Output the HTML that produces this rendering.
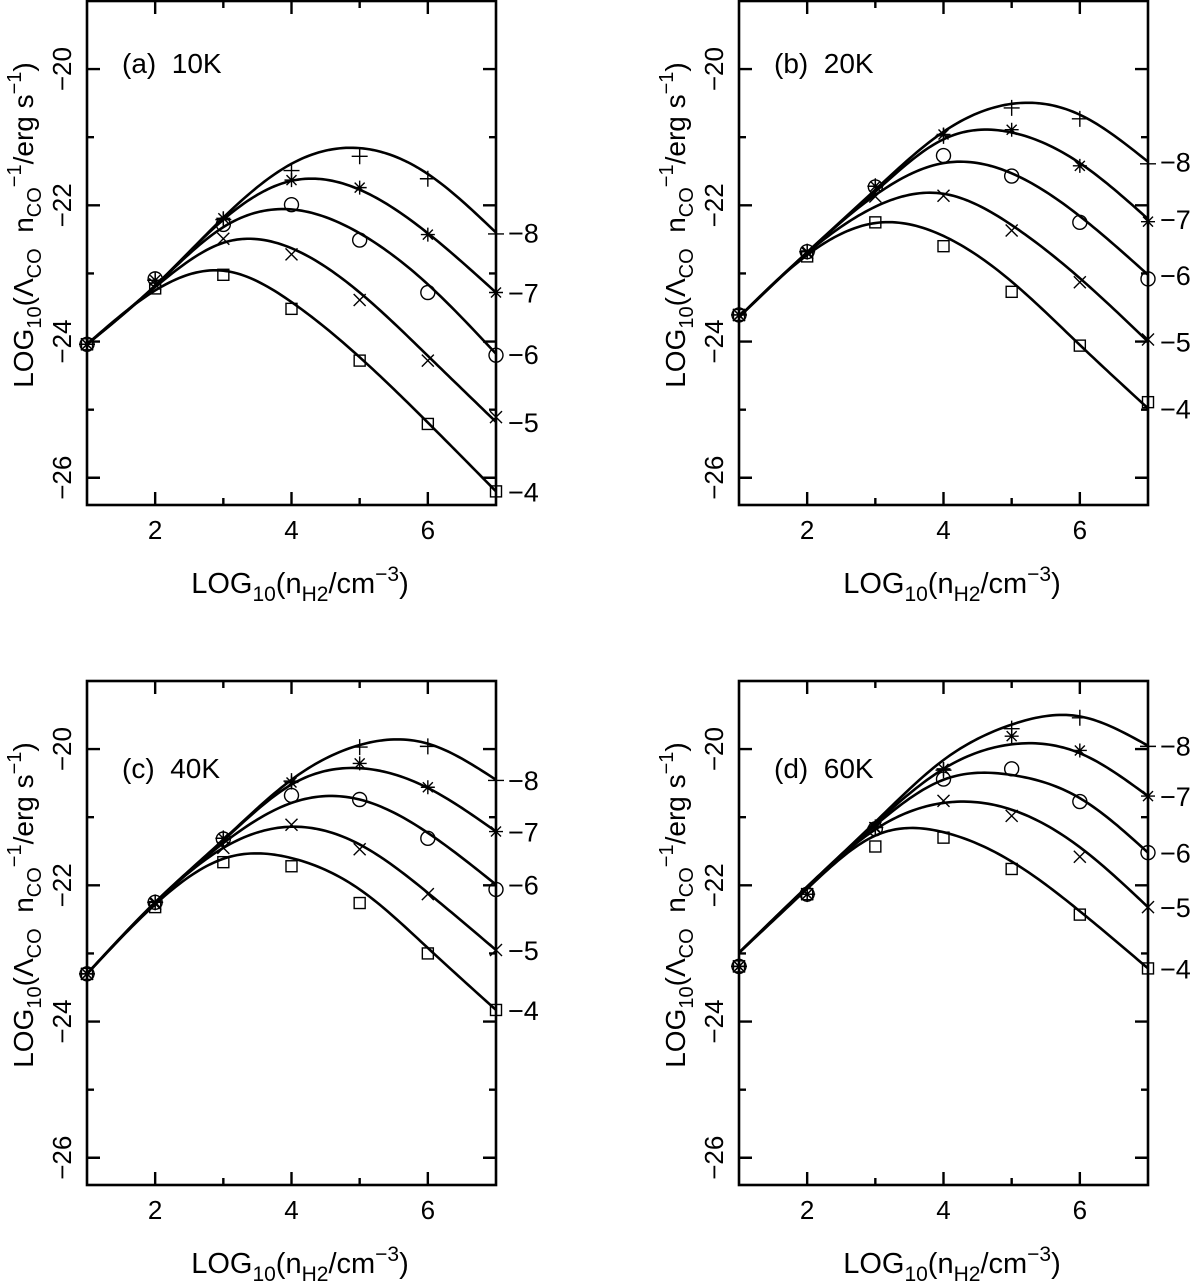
<!DOCTYPE html>
<html><head><meta charset="utf-8"><style>
html,body{margin:0;padding:0;background:#fff;}
svg{display:block;font-family:"Liberation Sans",sans-serif;}
</style></head><body>
<svg id="fig" width="1200" height="1283" viewBox="0 0 1200 1283"></svg>
<script>
// x values (log10 nH2)
const xVals = [1,2,3,4,5,6,7];
const seriesNames = ['plus','asterisk','circle','cross','square'];
const rightLabels = ['\u22128','\u22127','\u22126','\u22125','\u22124'];
const panelTitles = ['(a)\u00a0\u00a010K','(b)\u00a0\u00a020K','(c)\u00a0\u00a040K','(d)\u00a0\u00a060K'];

// Panel (a) 10K: markers
const aPlus = [-24.04,-23.10,-22.21,-21.49,-21.28,-21.61,-22.42];
const aAst  = [-24.04,-23.10,-22.19,-21.63,-21.74,-22.43,-23.28];
const aCirc = [-24.04,-23.08,-22.28,-21.99,-22.51,-23.28,-24.20];
const aCross= [-24.04,-23.16,-22.49,-22.72,-23.39,-24.28,-25.11];
const aSq   = [-24.04,-23.22,-23.02,-23.52,-24.28,-25.21,-26.20];
// Panel (a) fitted curves
const aPlusFit = [-24.04,-23.18,-22.18,-21.39,-21.16,-21.54,-22.40];
const aAstFit  = [-24.04,-23.18,-22.21,-21.64,-21.77,-22.41,-23.28];
const aCircFit = [-24.04,-23.18,-22.32,-22.06,-22.41,-23.16,-24.18];
const aCrossFit= [-24.04,-23.20,-22.55,-22.63,-23.28,-24.21,-25.18];
const aSqFit   = [-24.04,-23.25,-22.96,-23.42,-24.23,-25.19,-26.20];

// Panel (b) 20K
const bPlus = [-23.61,-22.68,-21.72,-20.98,-20.57,-20.73,-21.39];
const bAst  = [-23.61,-22.68,-21.72,-20.96,-20.89,-21.42,-22.24];
const bCirc = [-23.61,-22.68,-21.73,-21.27,-21.57,-22.25,-23.08];
const bCross= [-23.61,-22.70,-21.87,-21.86,-22.37,-23.13,-23.97];
const bSq   = [-23.61,-22.75,-22.25,-22.60,-23.27,-24.06,-24.89];
const bPlusFit = [-23.64,-22.69,-21.77,-20.92,-20.51,-20.67,-21.36];
const bAstFit  = [-23.64,-22.69,-21.80,-21.03,-20.93,-21.38,-22.20];
const bCircFit = [-23.64,-22.69,-21.85,-21.38,-21.53,-22.16,-23.02];
const bCrossFit= [-23.64,-22.70,-22.02,-21.83,-22.29,-23.07,-24.00];
const bSqFit   = [-23.64,-22.73,-22.26,-22.45,-23.12,-24.05,-24.98];

// Panel (c) 40K
const cPlus = [-23.30,-22.25,-21.31,-20.47,-19.97,-19.96,-20.46];
const cAst  = [-23.30,-22.25,-21.31,-20.49,-20.21,-20.56,-21.21];
const cCirc = [-23.30,-22.25,-21.32,-20.68,-20.74,-21.31,-22.06];
const cCross= [-23.30,-22.27,-21.45,-21.11,-21.47,-22.13,-22.95];
const cSq   = [-23.30,-22.32,-21.66,-21.72,-22.26,-23.00,-23.83];
const cPlusFit = [-23.30,-22.25,-21.33,-20.45,-19.94,-19.92,-20.45];
const cAstFit  = [-23.30,-22.25,-21.34,-20.52,-20.28,-20.57,-21.21];
const cCircFit = [-23.30,-22.25,-21.38,-20.79,-20.74,-21.23,-21.99];
const cCrossFit= [-23.30,-22.26,-21.45,-21.14,-21.40,-22.11,-22.95];
const cSqFit   = [-23.30,-22.28,-21.61,-21.60,-22.06,-22.92,-23.83];

// Panel (d) 60K
const dPlus = [-23.19,-22.13,-21.15,-20.31,-19.70,-19.54,-19.96];
const dAst  = [-23.19,-22.13,-21.15,-20.29,-19.81,-20.02,-20.69];
const dCirc = [-23.19,-22.13,-21.17,-20.44,-20.29,-20.77,-21.52];
const dCross= [-23.19,-22.13,-21.16,-20.76,-20.98,-21.58,-22.32];
const dSq   = [-23.19,-22.13,-21.43,-21.30,-21.76,-22.43,-23.22];
const dPlusFit = [-22.99,-22.02,-21.07,-20.16,-19.64,-19.52,-19.95];
const dAstFit  = [-22.99,-22.02,-21.09,-20.29,-19.93,-20.06,-20.69];
const dCircFit = [-22.99,-22.02,-21.12,-20.45,-20.38,-20.72,-21.52];
const dCrossFit= [-22.99,-22.03,-21.18,-20.79,-20.89,-21.44,-22.32];
const dSqFit   = [-22.99,-22.05,-21.27,-21.22,-21.65,-22.38,-23.22];

const xTickLabels = [2,4,6];
const yTickLabels = [-20,-22,-24,-26];

const panelMarkers = [[aPlus,aAst,aCirc,aCross,aSq],[bPlus,bAst,bCirc,bCross,bSq],[cPlus,cAst,cCirc,cCross,cSq],[dPlus,dAst,dCirc,dCross,dSq]];
const panelFits = [[aPlusFit,aAstFit,aCircFit,aCrossFit,aSqFit],[bPlusFit,bAstFit,bCircFit,bCrossFit,bSqFit],[cPlusFit,cAstFit,cCircFit,cCrossFit,cSqFit],[dPlusFit,dAstFit,dCircFit,dCrossFit,dSqFit]];

const NS='http://www.w3.org/2000/svg';
const svg=document.getElementById('fig');
function mk(tag,attrs,parent){const e=document.createElementNS(NS,tag);for(const k in attrs)e.setAttribute(k,attrs[k]);(parent||svg).appendChild(e);return e;}

const origins=[[87,1],[739,1],[87,681],[739,681]];
const W=409,H=504,X0=1,X1=7,Y0=-19,Y1=-26.4;

function spline(xs,ys){
  const n=xs.length,h=[],al=[],l=[1],mu=[0],z=[0],c=new Array(n).fill(0),b=[],d=[];
  for(let i=0;i<n-1;i++)h.push(xs[i+1]-xs[i]);
  for(let i=1;i<n-1;i++)al[i]=3/h[i]*(ys[i+1]-ys[i])-3/h[i-1]*(ys[i]-ys[i-1]);
  for(let i=1;i<n-1;i++){l[i]=2*(xs[i+1]-xs[i-1])-h[i-1]*mu[i-1];mu[i]=h[i]/l[i];z[i]=(al[i]-h[i-1]*z[i-1])/l[i];}
  l[n-1]=1;z[n-1]=0;c[n-1]=0;
  for(let j=n-2;j>=0;j--){c[j]=z[j]-mu[j]*c[j+1];b[j]=(ys[j+1]-ys[j])/h[j]-h[j]*(c[j+1]+2*c[j])/3;d[j]=(c[j+1]-c[j])/(3*h[j]);}
  return function(x){let j=Math.min(Math.max(0,Math.floor(x-xs[0])),n-2);const t=x-xs[j];return ys[j]+b[j]*t+c[j]*t*t+d[j]*t*t*t;};
}

function marker(g,type,cx,cy){
  const st={stroke:'#000','stroke-width':1.4,fill:'none'};
  let e;
  if(type==='plus'){e=mk('path',Object.assign({d:`M${cx-8} ${cy}H${cx+8}M${cx} ${cy-8}V${cy+8}`},st),g);}
  else if(type==='asterisk'){e=mk('path',Object.assign({d:`M${cx-7} ${cy}H${cx+7}M${cx} ${cy-7}V${cy+7}M${cx-5} ${cy-5}L${cx+5} ${cy+5}M${cx-5} ${cy+5}L${cx+5} ${cy-5}`},st),g);}
  else if(type==='circle'){e=mk('circle',Object.assign({cx:cx,cy:cy,r:7},st),g);}
  else if(type==='cross'){e=mk('path',Object.assign({d:`M${cx-6} ${cy-6}L${cx+6} ${cy+6}M${cx-6} ${cy+6}L${cx+6} ${cy-6}`},st),g);}
  else {e=mk('rect',Object.assign({x:cx-5.5,y:cy-5.5,width:11,height:11},st),g);}
  return e;
}

panelMarkers.forEach((mks,p)=>{
  const [L,T]=origins[p];
  const sx=x=>L+(x-X0)/(X1-X0)*W;
  const sy=y=>T+(Y0-y)/(Y0-Y1)*H;
  const g=mk('g',{});
  
  
  const fr=mk('rect',{x:L,y:T,width:W,height:H,fill:'none',stroke:'#000','stroke-width':2.6},g);
  
  
  let d='';
  for(let x=2;x<=6;x++){const len=(x%2===0)?13:7;const px=sx(x);d+=`M${px} ${T+H}V${T+H-len}M${px} ${T}V${T+len}`;}
  for(let y=-20;y>=-26;y--){const len=(y%2===0)?13:7;const py=sy(y);d+=`M${L} ${py}H${L+len}M${L+W} ${py}H${L+W-len}`;}
  const tk=mk('path',{d:d,stroke:'#000','stroke-width':2.4,fill:'none'},g);
  
  
  xTickLabels.forEach(v=>{
    const t=mk('text',{x:sx(v),y:T+538,'font-size':26,'text-anchor':'middle'},g);
    t.textContent=v;
    
    
  });
  yTickLabels.forEach(v=>{
    const py=sy(v);
    const t=mk('text',{x:0,y:0,'font-size':26,'text-anchor':'middle',transform:`translate(${L-16},${py}) rotate(-90)`},g);
    t.textContent='\u2212'+Math.abs(v);
    
    
  });
  const xt=mk('text',{x:L+213,y:T+592,'font-size':29,'text-anchor':'middle'},g);
  xt.innerHTML='LOG<tspan font-size="21" dy="8">10</tspan><tspan dy="-8">(n</tspan><tspan font-size="21" dy="8">H2</tspan><tspan dy="-8">/cm</tspan><tspan font-size="21" dy="-12">\u22123</tspan><tspan dy="12">)</tspan>';
  
  
  const yt=mk('text',{x:0,y:0,'font-size':28,'text-anchor':'middle',transform:`translate(${L-54},${T+224}) rotate(-90)`},g);
  yt.innerHTML='LOG<tspan font-size="20" dy="8">10</tspan><tspan dy="-8">(\u039B</tspan><tspan font-size="20" dy="8">CO</tspan><tspan dy="-8">\u00a0\u00a0n</tspan><tspan font-size="20" dy="8">CO</tspan><tspan font-size="20" dy="-20">\u22121</tspan><tspan dy="12">/erg\u00a0s</tspan><tspan font-size="20" dy="-12">\u22121</tspan><tspan dy="12">)</tspan>';
  
  
  const pt=mk('text',{x:L+35,y:T+(p<2?72:97),'font-size':28},g);
  pt.textContent=panelTitles[p];
  
  
  panelFits[p].forEach((fit,i)=>{
    const f=spline(xVals,fit);
    let pd='';
    for(let k=0;k<=120;k++){const x=X0+(X1-X0)*k/120;pd+=(k?'L':'M')+sx(x).toFixed(2)+' '+sy(f(x)).toFixed(2);}
    const c=mk('path',{d:pd,fill:'none',stroke:'#000','stroke-width':2.6},g);
    
    
    const rl=mk('text',{x:L+W+12,y:sy(fit[fit.length-1])+10,'font-size':27},g);
    rl.textContent=rightLabels[i];
    
    
  });
  mks.forEach((arr,i)=>{
    arr.forEach((v,j)=>{
      const m=marker(g,seriesNames[i],sx(xVals[j]),sy(v));
      
      
    });
  });
});
</script>
</body></html>
